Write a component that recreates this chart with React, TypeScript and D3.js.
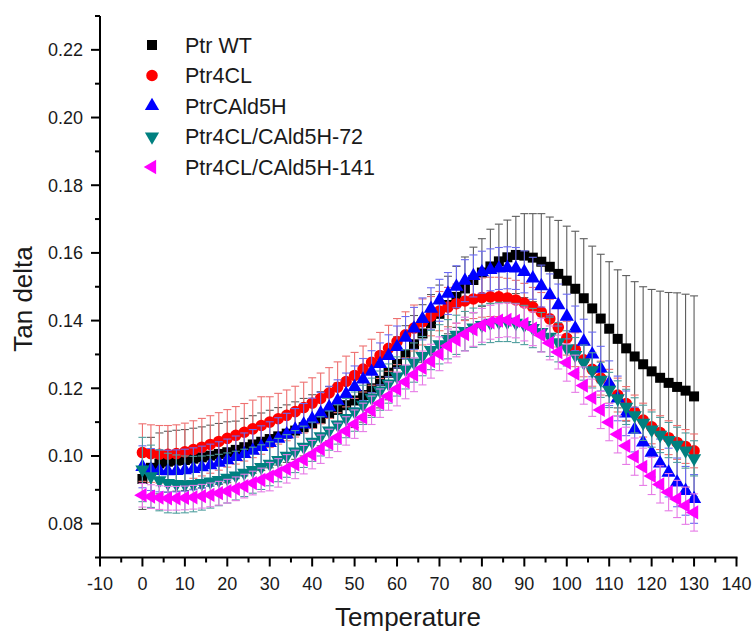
import React from 'react';
import * as d3 from 'd3';

// temperature (°C) of every reading
const temps = [
  0, 2, 4, 6, 8, 10, 12, 14, 16, 18, 20, 22, 24, 26, 28, 30, 32, 34, 36, 38,
  40, 42, 44, 46, 48, 50, 52, 54, 56, 58, 60, 62, 64, 66, 68, 70, 72, 74, 76, 78,
  80, 82, 84, 86, 88, 90, 92, 94, 96, 98, 100, 102, 104, 106, 108, 110, 112, 114, 116, 118,
  120, 122, 124, 126, 128, 130,
];

const wtMean = [
  0.0932, 0.0965, 0.0978, 0.0983, 0.0986, 0.0988, 0.0992, 0.0996, 0.1001, 0.1006,
  0.1011, 0.1018, 0.1026, 0.1034, 0.1042, 0.1050, 0.1058, 0.1066, 0.1075, 0.1085,
  0.1096, 0.1110, 0.1125, 0.1136, 0.1150, 0.1164, 0.1180, 0.1200, 0.1222, 0.1246,
  0.1272, 0.1300, 0.1330, 0.1362, 0.1392, 0.1420, 0.1446, 0.1470, 0.1495, 0.1520,
  0.1542, 0.1560, 0.1575, 0.1587, 0.1594, 0.1592, 0.1586, 0.1574, 0.1559, 0.1538,
  0.1518, 0.1494, 0.1466, 0.1436, 0.1406, 0.1376, 0.1346, 0.1318, 0.1294, 0.1271,
  0.1250, 0.1231, 0.1216, 0.1204, 0.1193, 0.1176,
];
const wtSd = [
  0.009, 0.009, 0.009, 0.009, 0.009, 0.009, 0.009, 0.009, 0.009, 0.009, 0.009,
  0.0085, 0.0085, 0.0085, 0.0085, 0.0085, 0.0085, 0.0085, 0.0085, 0.0085, 0.0085,
  0.008, 0.008, 0.008, 0.008, 0.008, 0.008, 0.008, 0.008, 0.008, 0.008,
  0.0085, 0.0085, 0.0085, 0.0085, 0.0085, 0.0085,
  0.009, 0.0093, 0.0097, 0.01,
  0.011, 0.011, 0.011, 0.0114, 0.0124, 0.013, 0.0142, 0.0147, 0.0158,
  0.0161, 0.017, 0.0176, 0.0184, 0.019, 0.0198, 0.0204, 0.0215, 0.0221, 0.0229,
  0.0242, 0.0256, 0.0267, 0.0278, 0.0285, 0.0297,
];

const clMean = [
  0.1010, 0.1007, 0.1005, 0.1005, 0.1007, 0.1012, 0.1019, 0.1026, 0.1034, 0.1043,
  0.1052, 0.1061, 0.1070, 0.1080, 0.1090, 0.1100, 0.1110, 0.1120, 0.1131, 0.1143,
  0.1156, 0.1170, 0.1186, 0.1203, 0.1220, 0.1238, 0.1257, 0.1277, 0.1297, 0.1318,
  0.1338, 0.1358, 0.1378, 0.1396, 0.1413, 0.1428, 0.1440, 0.1450, 0.1458, 0.1464,
  0.1468, 0.1470, 0.1470, 0.1467, 0.1461, 0.1452, 0.1440, 0.1425, 0.1405, 0.1380,
  0.1348, 0.1314, 0.1284, 0.1256, 0.1230, 0.1206, 0.1180, 0.1155, 0.1130, 0.1106,
  0.1086, 0.1069, 0.1054, 0.1040, 0.1028, 0.1015,
];
const clSd = [
  0.0085, 0.0085, 0.0085, 0.0085, 0.0085, 0.0085, 0.0085, 0.0085, 0.0085, 0.0085,
  0.0085, 0.0085, 0.0085, 0.0085, 0.0085,
  0.0075, 0.0075, 0.0075, 0.0075, 0.0075, 0.0075, 0.0075, 0.0075, 0.0075, 0.0075,
  0.0068, 0.0068, 0.0068, 0.0068, 0.0068, 0.0068, 0.0068, 0.0068, 0.0068,
  0.0058, 0.0058, 0.0058, 0.0058, 0.0058, 0.0058, 0.0058, 0.0058, 0.0058, 0.0058,
  0.0058, 0.0058, 0.0058, 0.0058, 0.0058, 0.0058,
  0.005, 0.005, 0.005, 0.005, 0.005, 0.005, 0.005, 0.005, 0.005, 0.005,
  0.005, 0.005, 0.005, 0.005, 0.005, 0.005,
];

const cadMean = [
  0.0968, 0.0960, 0.0956, 0.0955, 0.0956, 0.0958, 0.0962, 0.0967, 0.0973, 0.0980,
  0.0988, 0.0997, 0.1006, 0.1016, 0.1027, 0.1039, 0.1051, 0.1064, 0.1078, 0.1093,
  0.1109, 0.1126, 0.1144, 0.1163, 0.1183, 0.1204, 0.1226, 0.1249, 0.1272, 0.1296,
  0.1322, 0.1350, 0.1377, 0.1405, 0.1435, 0.1460, 0.1480, 0.1500, 0.1518, 0.1532,
  0.1543, 0.1550, 0.1554, 0.1556, 0.1554, 0.1544, 0.1525, 0.1502, 0.1476, 0.1446,
  0.1412, 0.1377, 0.1338, 0.1300, 0.1258, 0.1215, 0.1170, 0.1126, 0.1078, 0.1040,
  0.1010, 0.0978, 0.0951, 0.0922, 0.0897, 0.0873,
];
const cadSd = [
  0.0062, 0.0062, 0.0062, 0.0062, 0.0062, 0.0062, 0.0062, 0.0062, 0.0062, 0.0062,
  0.0062, 0.0062, 0.0062, 0.0062, 0.0062, 0.0062, 0.0062, 0.0062, 0.0062, 0.0062,
  0.0062, 0.0062, 0.0062, 0.0062, 0.0062, 0.0062, 0.0062, 0.0062, 0.0062, 0.0062,
  0.0062, 0.0062, 0.0062, 0.0062, 0.0062, 0.0062, 0.0062, 0.0062, 0.0062, 0.0062,
  0.0062, 0.0062, 0.0062, 0.0062, 0.0062, 0.0062, 0.0062, 0.0062, 0.0062, 0.0062,
  0.0066, 0.0066, 0.0066, 0.0066, 0.0066, 0.0066, 0.0066, 0.0066, 0.0066, 0.0066,
  0.0072, 0.0072, 0.0072, 0.0072, 0.0072, 0.0072,
];

const l72Mean = [
  0.0960, 0.0940, 0.0928, 0.0920, 0.0917, 0.0916, 0.0917, 0.0920, 0.0924, 0.0929,
  0.0935, 0.0942, 0.0950, 0.0958, 0.0967, 0.0977, 0.0988, 0.1000, 0.1013, 0.1027,
  0.1042, 0.1058, 0.1075, 0.1093, 0.1112, 0.1131, 0.1151, 0.1172, 0.1193, 0.1214,
  0.1235, 0.1256, 0.1276, 0.1295, 0.1313, 0.1330, 0.1345, 0.1358, 0.1369, 0.1379,
  0.1387, 0.1393, 0.1396, 0.1396, 0.1393, 0.1387, 0.1378, 0.1366, 0.1352, 0.1336,
  0.1318, 0.1298, 0.1276, 0.1253, 0.1225, 0.1195, 0.1170, 0.1145, 0.1120, 0.1098,
  0.1078, 0.1062, 0.1047, 0.1033, 0.1016, 0.0993,
];
const l72Sd = [
  0.0095, 0.0092, 0.009, 0.0088, 0.0086, 0.0084, 0.0082, 0.008, 0.0078, 0.0076,
  0.0074, 0.0072, 0.007, 0.0068, 0.0066, 0.0065, 0.0064, 0.0063, 0.0062, 0.0061,
  0.0058, 0.0058, 0.0058, 0.0058, 0.0058, 0.0058, 0.0058, 0.0058, 0.0058, 0.0058,
  0.0058, 0.0058, 0.0058, 0.0058, 0.0058, 0.0058, 0.0058, 0.0058, 0.0058, 0.0058,
  0.0058, 0.0058, 0.0058, 0.0058, 0.0058, 0.0058, 0.0058, 0.0058, 0.0058, 0.0058,
  0.0052, 0.0052, 0.0052, 0.0052, 0.0052, 0.0052, 0.0052, 0.0052, 0.0052, 0.0052,
  0.0052, 0.0052, 0.0052, 0.0052, 0.0052, 0.0052,
];

const l141Mean = [
  0.0884, 0.0880, 0.0877, 0.0875, 0.0875, 0.0876, 0.0878, 0.0881, 0.0885, 0.0890,
  0.0896, 0.0903, 0.0911, 0.0920, 0.0929, 0.0939, 0.0950, 0.0962, 0.0975, 0.0989,
  0.1004, 0.1020, 0.1037, 0.1055, 0.1074, 0.1094, 0.1114, 0.1135, 0.1156, 0.1177,
  0.1198, 0.1219, 0.1240, 0.1260, 0.1280, 0.1302, 0.1325, 0.1343, 0.1360, 0.1374,
  0.1386, 0.1395, 0.1400, 0.1402, 0.1399, 0.1390, 0.1376, 0.1357, 0.1334, 0.1307,
  0.1276, 0.1243, 0.1208, 0.1172, 0.1136, 0.1100, 0.1064, 0.1030, 0.0998, 0.0968,
  0.0941, 0.0916, 0.0893, 0.0873, 0.0853, 0.0833,
];
const l141Sd = [
  0.0035, 0.0035, 0.0035, 0.0035, 0.0035, 0.0035, 0.0035, 0.0035, 0.0035, 0.0035,
  0.0035, 0.0035, 0.0035, 0.0035, 0.0035,
  0.0042, 0.0042, 0.0042, 0.0042, 0.0042, 0.0042, 0.0042, 0.0042, 0.0042, 0.0042,
  0.0042, 0.0042, 0.0042, 0.0042, 0.0042,
  0.005, 0.005, 0.005, 0.005, 0.005, 0.005, 0.005, 0.005, 0.005, 0.005,
  0.005, 0.005, 0.005, 0.005, 0.005, 0.005, 0.005, 0.005, 0.005, 0.005,
  0.0055, 0.0055, 0.0055, 0.0055, 0.0055, 0.0055, 0.0055, 0.0055, 0.0055, 0.0055,
  0.0055, 0.0055, 0.0055, 0.0055, 0.0055, 0.0055,
];

const seriesNames = ['Ptr WT', 'Ptr4CL', 'PtrCAld5H', 'Ptr4CL/CAld5H-72', 'Ptr4CL/CAld5H-141'];
const xTicks = [-10, 0, 10, 20, 30, 40, 50, 60, 70, 80, 90, 100, 110, 120, 130, 140];
const yTicks = [0.08, 0.10, 0.12, 0.14, 0.16, 0.18, 0.20, 0.22];

const W = 754;
const H = 633;
const FONT = '"Liberation Sans", Arial, sans-serif';

const x = d3.scaleLinear().domain([-10, 140]).range([100, 736.5]);
const y = d3.scaleLinear().domain([0.07, 0.23]).range([557.5, 16]);

// symbol kind, fill, error bar colour, rotation
const styles = [
  { shape: d3.symbolSquare, size: 100, fill: '#000000', err: '#5c5c5c', rot: 0 },
  { shape: d3.symbolCircle, size: 105, fill: '#ff0000', err: '#ee7070', rot: 0 },
  { shape: d3.symbolTriangle, size: 88, fill: '#0000ff', err: '#6a6af0', rot: 0 },
  { shape: d3.symbolTriangle, size: 88, fill: '#008080', err: '#4f9e9e', rot: 180 },
  { shape: d3.symbolTriangle, size: 88, fill: '#ff00ff', err: '#e67ae6', rot: -90 },
];

const means = [wtMean, clMean, cadMean, l72Mean, l141Mean];
const sds = [wtSd, clSd, cadSd, l72Sd, l141Sd];

const Series = ({ idx }: { idx: number }) => {
  const st = styles[idx];
  const path = d3.symbol().type(st.shape).size(st.size)() as string;
  const m = means[idx];
  const s = sds[idx];
  const cap = 4;
  return (
    <g>
      <g stroke={st.err} strokeWidth={1.1} fill="none">
        {temps.map((t, i) => {
          const cx = x(t);
          const y1 = y(m[i] + s[i]);
          const y2 = y(m[i] - s[i]);
          return (
            <g key={i}>
              <line x1={cx} x2={cx} y1={y1} y2={y2} />
              <line x1={cx - cap} x2={cx + cap} y1={y1} y2={y1} />
              <line x1={cx - cap} x2={cx + cap} y1={y2} y2={y2} />
            </g>
          );
        })}
      </g>
      <g fill={st.fill}>
        {temps.map((t, i) => (
          <path key={i} d={path} transform={`translate(${x(t)},${y(m[i])}) rotate(${st.rot})`} />
        ))}
      </g>
    </g>
  );
};

export default function App() {
  const x0 = x.range()[0];
  const x1 = x.range()[1];
  const y0 = y.range()[0];
  const y1 = y.range()[1];
  const xMinor = xTicks.slice(0, -1).map((t) => t + 5);
  const yMinor = [0.07, ...yTicks.map((t) => t + 0.01)];

  return (
    <svg
      width={W}
      height={H}
      style={{ position: 'absolute', left: 0, top: 0, background: '#fff' }}
      fontFamily={FONT}
    >
      {[0, 1, 2, 3, 4].map((i) => (
        <Series key={i} idx={i} />
      ))}

      {/* axes */}
      <g stroke="#000" strokeWidth={2} fill="none">
        <line x1={x0} x2={x0} y1={y0 + 1} y2={y1} />
        <line x1={x0 - 1} x2={x1 + 1} y1={y0} y2={y0} />
        {yTicks.map((t) => (
          <line key={t} x1={x0 - 9} x2={x0} y1={y(t)} y2={y(t)} />
        ))}
        {yMinor.map((t) => (
          <line key={t} x1={x0 - 5} x2={x0} y1={y(t)} y2={y(t)} />
        ))}
        {xTicks.map((t) => (
          <line key={t} x1={x(t)} x2={x(t)} y1={y0} y2={y0 + 9} />
        ))}
        {xMinor.map((t) => (
          <line key={t} x1={x(t)} x2={x(t)} y1={y0} y2={y0 + 5} />
        ))}
      </g>

      <g fontSize={18} fill="#1a1a1a">
        {yTicks.map((t) => (
          <text key={t} x={x0 - 17} y={y(t)} dy="0.36em" textAnchor="end">
            {t.toFixed(2)}
          </text>
        ))}
        {xTicks.map((t) => (
          <text key={t} x={x(t)} y={590} textAnchor="middle">
            {t}
          </text>
        ))}
      </g>

      <text x={408} y={626} fontSize={26} textAnchor="middle" fill="#1a1a1a">
        Temperature
      </text>
      <text
        transform="translate(32,299) rotate(-90)"
        fontSize={26}
        textAnchor="middle"
        fill="#1a1a1a"
      >
        Tan delta
      </text>

      {/* legend */}
      {seriesNames.map((name, i) => {
        const st = styles[i];
        const ly = 45 + i * 30.5;
        const path = d3.symbol().type(st.shape).size(st.size)() as string;
        return (
          <g key={name}>
            <path d={path} fill={st.fill} transform={`translate(152,${ly}) rotate(${st.rot})`} />
            <text x={185} y={ly} dy="0.36em" fontSize={21.5} fill="#1a1a1a">
              {name}
            </text>
          </g>
        );
      })}
    </svg>
  );
}
